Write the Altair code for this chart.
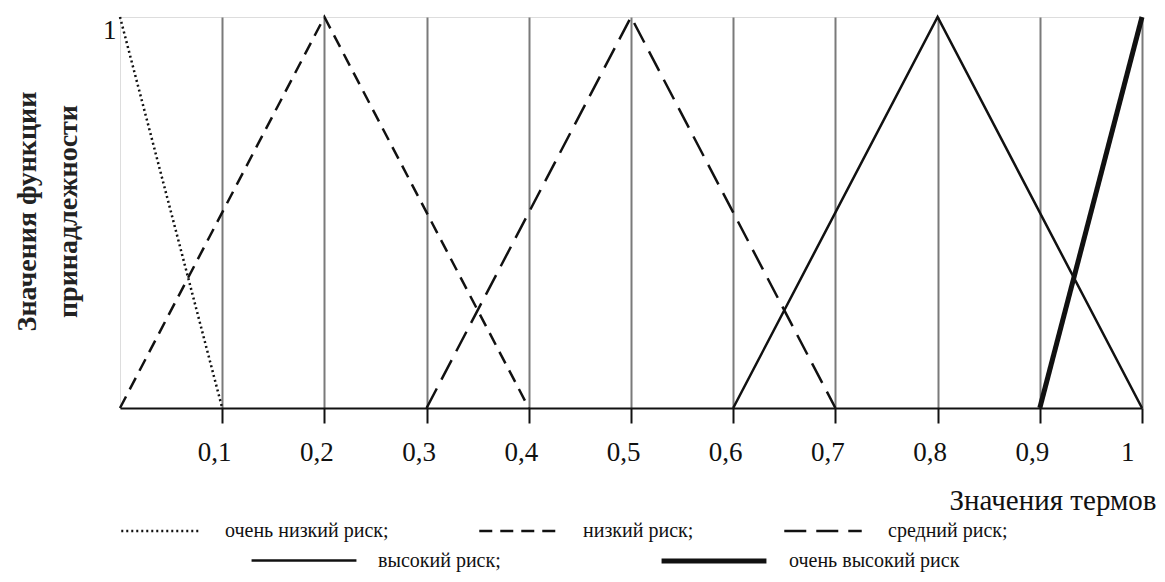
import altair as alt
import pandas as pd

# ---- data ----
series_names = ["очень низкий риск;", "низкий риск;", "средний риск;", "высокий риск;", "очень высокий риск"]
very_low_x = [0.0, 0.1]
very_low_y = [1.0, 0.0]
low_x = [0.0, 0.2, 0.4]
low_y = [0.0, 1.0, 0.0]
medium_x = [0.3, 0.5, 0.7]
medium_y = [0.0, 1.0, 0.0]
high_x = [0.6, 0.8, 1.0]
high_y = [0.0, 1.0, 0.0]
very_high_x = [0.9, 1.0]
very_high_y = [0.0, 1.0]
x_ticks = [0.1, 0.2, 0.3, 0.4, 0.5, 0.6, 0.7, 0.8, 0.9, 1.0]
y_title = ["Значения функции", "принадлежности"]
x_title = "Значения термов"

xs = [very_low_x, low_x, medium_x, high_x, very_high_x]
ys = [very_low_y, low_y, medium_y, high_y, very_high_y]
rows = []
for name, sx, sy in zip(series_names, xs, ys):
    for i, (a, b) in enumerate(zip(sx, sy)):
        rows.append({"series": name, "x": a, "y": b, "order": i})
df = pd.DataFrame(rows)

row1 = series_names[:3]
row2 = series_names[3:]

SERIF = "Liberation Serif"

x_enc = alt.X(
    "x:Q",
    scale=alt.Scale(domain=[0, 1], nice=False, zero=False),
    axis=alt.Axis(
        values=x_ticks,
        labelExpr="replace(format(datum.value, '.1~f'), '.', ',')",
        grid=True, gridColor="#7a7a7a", gridWidth=2,
        domainColor="#111", domainWidth=2,
        tickColor="#111", tickWidth=2, tickSize=15,
        labelFont=SERIF, labelFontSize=27, labelColor="#111",
        labelPadding=16, labelOffset=-8,
        title=x_title, titleFont=SERIF, titleFontSize=29, titleFontWeight="normal",
        titleColor="#111", titleAnchor="end", titleAlign="right",
        titleX=1036, titleY=101, titleBaseline="alphabetic",
    ),
)
y_enc = alt.Y(
    "y:Q",
    scale=alt.Scale(domain=[0, 1], nice=False),
    axis=alt.Axis(
        values=[1], labelExpr="'1'", ticks=False, domain=False, grid=False,
        labelFont=SERIF, labelFontSize=27, labelColor="#111",
        labelBaseline="top", labelPadding=4,
        title=y_title, titleFont=SERIF, titleFontSize=28, titleFontWeight="bold",
        titleColor="#222", titleLineHeight=41, titleX=-107, titleY=194,
        titleAngle=270, titleAlign="center", titleBaseline="top",
    ),
)

dashed = alt.Chart(df).transform_filter(
    alt.FieldOneOfPredicate(field="series", oneOf=row1)
).mark_line(color="#111", strokeWidth=2.5, strokeCap="butt").encode(
    x=x_enc, y=y_enc, order="order:Q",
    strokeDash=alt.StrokeDash(
        "series:N",
        scale=alt.Scale(domain=row1, range=[[2, 3], [13, 8], [22, 10]]),
        legend=alt.Legend(
            title=None, orient="none", direction="horizontal",
            legendX=0, legendY=474,
            symbolType="stroke", symbolSize=6000, symbolStrokeColor="#111",
            symbolStrokeWidth=2.5, labelFont=SERIF, labelFontSize=20,
            labelColor="#111", labelOffset=25, columnPadding=85, labelLimit=500,
        ),
    ),
)

solid = alt.Chart(df).transform_filter(
    alt.FieldOneOfPredicate(field="series", oneOf=row2)
).mark_line(color="#111").encode(
    x=x_enc, y=y_enc, order="order:Q",
    strokeWidth=alt.StrokeWidth(
        "series:N",
        scale=alt.Scale(domain=row2, range=[2.5, 5]),
        legend=alt.Legend(
            title=None, orient="none", direction="horizontal",
            legendX=130, legendY=489,
            symbolType="stroke", symbolSize=11000, symbolStrokeColor="#111",
            labelFont=SERIF, labelFontSize=20,
            labelColor="#111", labelOffset=20, columnPadding=150, labelLimit=500,
        ),
    ),
)

chart = alt.layer(dashed, solid).resolve_legend(strokeDash="independent").properties(
    width=1022, height=391,
    autosize=alt.AutoSizeParams(type="none"),
    padding={"left": 112, "top": 9, "right": 15, "bottom": 166},
).configure_view(stroke="#7a7a7a", strokeWidth=2).configure(background="white")

chart.save("out.html", embed_options={"renderer": "svg", "actions": False})
